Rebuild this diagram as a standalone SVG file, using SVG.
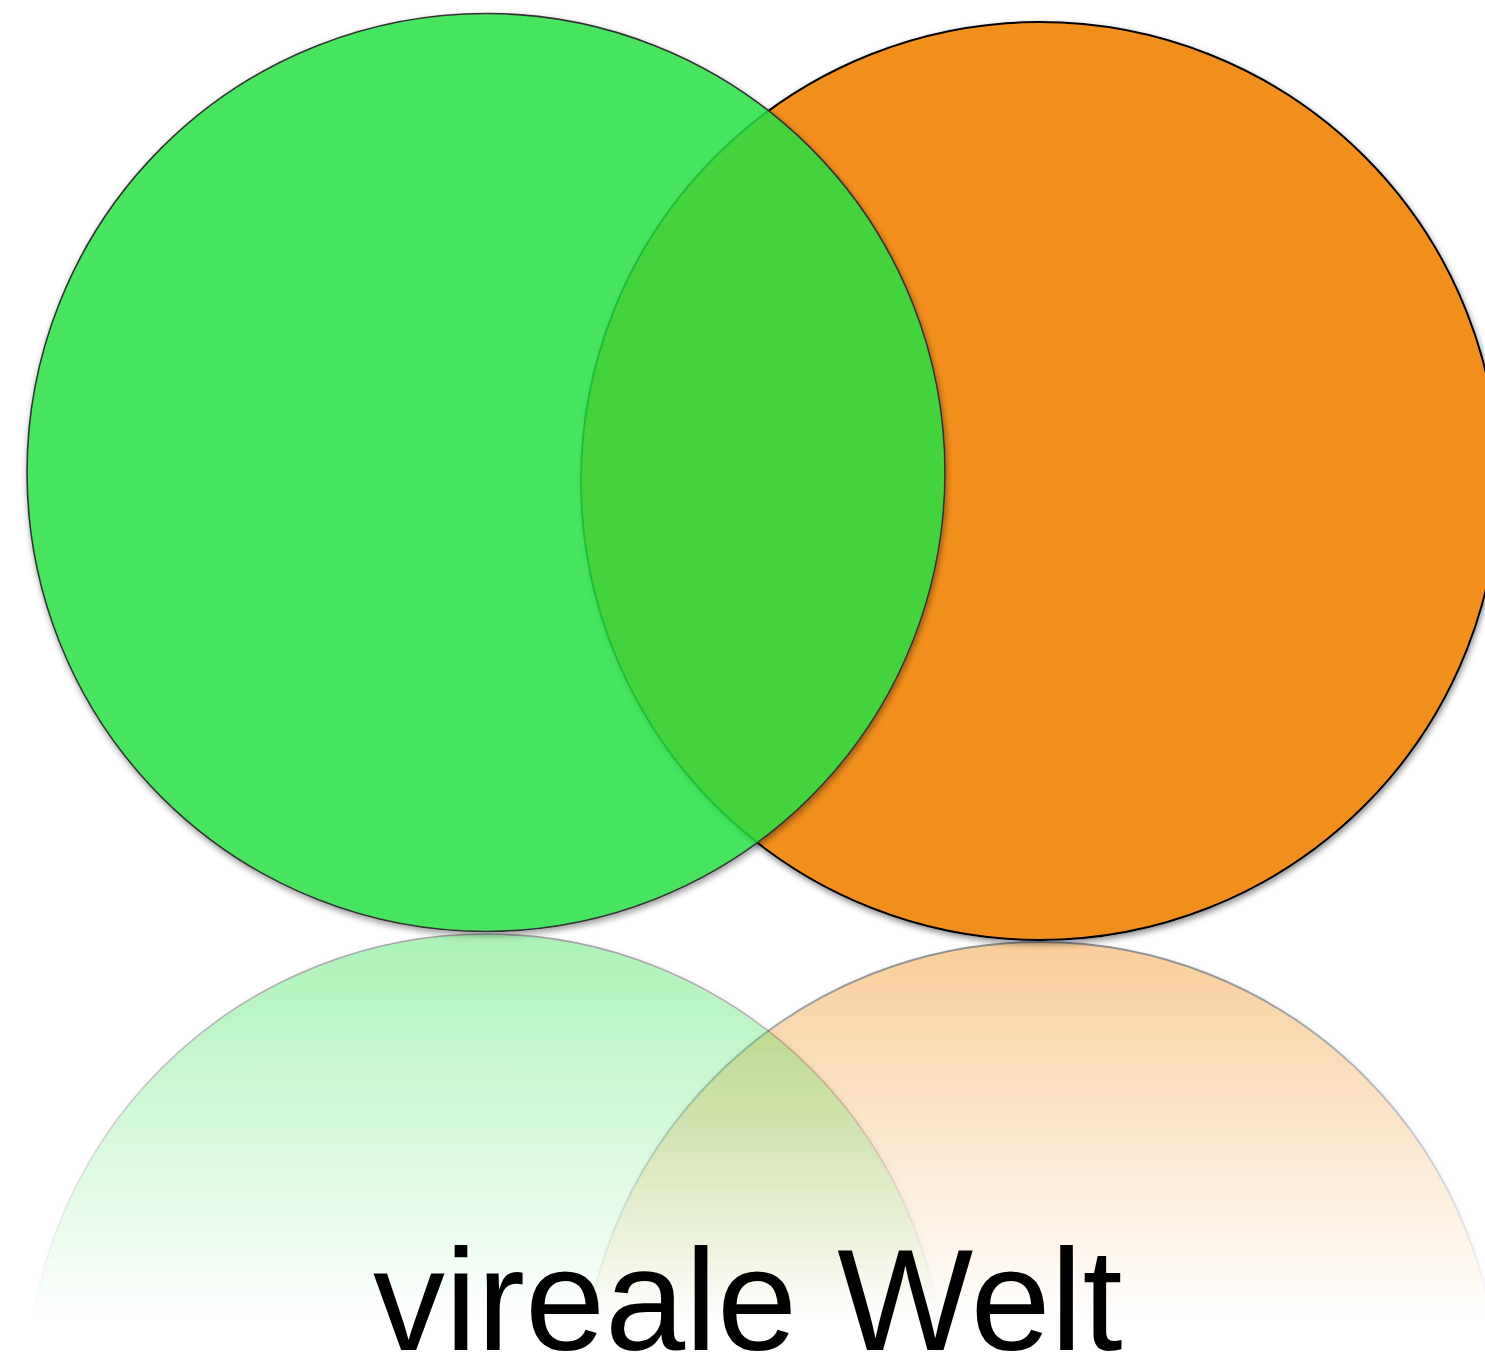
<svg xmlns="http://www.w3.org/2000/svg" width="1485" height="1366" viewBox="0 0 1485 1366">
  <defs>
    <filter id="shadow" x="-5%" y="-5%" width="110%" height="110%">
      <feGaussianBlur in="SourceAlpha" stdDeviation="3"/>
      <feOffset dx="1" dy="3" result="b"/>
      <feFlood flood-color="#000" flood-opacity="0.45"/>
      <feComposite in2="b" operator="in" result="s"/>
      <feComposite in="s" in2="SourceAlpha" operator="out" result="s2"/>
      <feMerge>
        <feMergeNode in="s2"/>
        <feMergeNode in="SourceGraphic"/>
      </feMerge>
    </filter>
    <linearGradient id="fade" gradientUnits="userSpaceOnUse" x1="0" y1="930" x2="0" y2="1320">
      <stop offset="0" stop-color="#fff" stop-opacity="0.46"/>
      <stop offset="1" stop-color="#fff" stop-opacity="0"/>
    </linearGradient>
    <mask id="reflMask" maskUnits="userSpaceOnUse" x="0" y="900" width="1485" height="466">
      <rect x="0" y="900" width="1485" height="466" fill="url(#fade)"/>
    </mask>
  </defs>
  <style>
    .green { fill: #26E043; fill-opacity: 0.84; stroke: #333; stroke-width: 1.6; }
    .orange { fill: #F28F1A; stroke: #000; stroke-width: 2; }
    .label { font-family: "Liberation Sans", Arial, sans-serif; font-size: 144px; fill: #000; }
  </style>

  <g id="reflection-orange" mask="url(#reflMask)">
    <circle class="orange" cx="1040" cy="1401" r="459" filter="url(#shadow)"/>
  </g>
  <g id="reflection-green" mask="url(#reflMask)">
    <circle class="green" cx="486" cy="1393" r="459" filter="url(#shadow)"/>
  </g>

  <g id="node-orange">
    <circle class="orange" cx="1040" cy="481" r="459" filter="url(#shadow)"/>
  </g>
  <g id="node-green">
    <circle class="green" cx="486" cy="472.5" r="459" filter="url(#shadow)"/>
  </g>

  <g id="connectors"/>

  <g id="title">
    <text class="label" x="373" y="1350">vireale Welt</text>
  </g>
</svg>
